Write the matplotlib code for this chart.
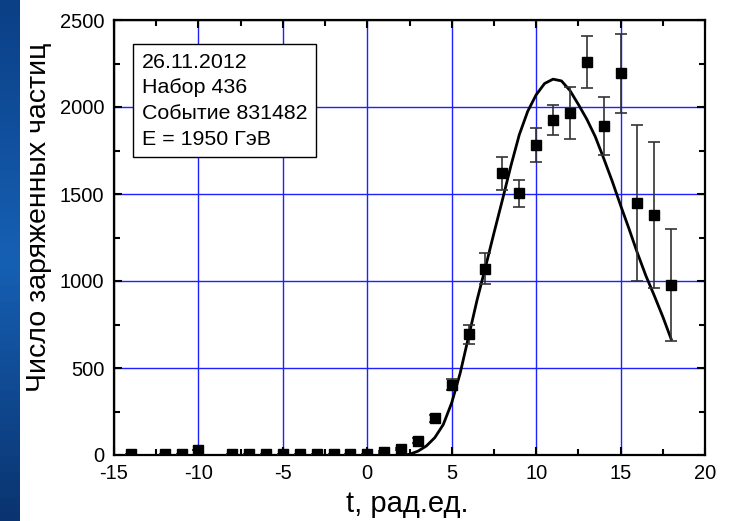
import matplotlib
matplotlib.use("Agg")
import numpy as np
import matplotlib.pyplot as plt
from matplotlib.colors import LinearSegmentedColormap
from matplotlib.ticker import MultipleLocator

plt.rcParams['font.family'] = ['Liberation Sans', 'DejaVu Sans']
plt.rcParams['axes.unicode_minus'] = False

# measured points
t_pts = [-14, -12, -11, -10, -8, -7, -6, -5, -4, -3, -2, -1, 0,
         1, 2, 3, 4, 5, 6, 7, 8, 9, 10, 11, 12, 13, 14, 15, 16, 17, 18]
n_pts = [5, 8, 6, 30, 5, 5, 6, 6, 5, 5, 5, 6, 8,
         18, 35, 83, 210, 405, 693, 1070, 1620, 1505, 1782, 1925, 1965,
         2259, 1890, 2195, 1448, 1379, 977]
n_err = [0, 0, 0, 0, 0, 0, 0, 0, 0, 0, 0, 0, 0,
         5, 8, 12, 22, 30, 55, 90, 95, 78, 98, 88, 150,
         150, 167, 227, 448, 420, 320]

# fitted curve
t_fit = [2.2, 2.5, 3, 3.5, 4, 4.5, 5, 5.5, 6, 6.5, 7, 7.5, 8, 8.5, 9, 9.5,
         10, 10.5, 11, 11.5, 12, 12.5, 13, 13.5, 14, 14.5, 15, 15.5, 16,
         16.5, 17, 17.5, 18]
n_fit = [0, 4, 22, 52, 100, 175, 300, 470, 680, 890, 1080, 1275, 1465,
         1660, 1840, 1975, 2070, 2135, 2160, 2150, 2095, 2015, 1930, 1830,
         1705, 1575, 1435, 1300, 1160, 1030, 915, 795, 665]

info_lines = ["26.11.2012", "Набор 436", "Событие 831482", "E = 1950 ГэВ"]

fig = plt.figure(figsize=(7.30, 5.21), dpi=100)

# slide background stripe on the left edge
bg = fig.add_axes([0, 0, 20 / 730, 1])
bg.set_axis_off()
cmap = LinearSegmentedColormap.from_list('slide', ['#0b3f86', '#1660b4', '#0a3470'])
bg.imshow(np.linspace(0, 1, 64).reshape(-1, 1), aspect='auto', cmap=cmap,
          extent=(0, 1, 0, 1))

ax = fig.add_axes([114 / 730, 1 - 455 / 521, 591 / 730, 435 / 521])
ax.set_xlim(-15, 20)
ax.set_ylim(0, 2500)

ax.xaxis.set_major_locator(MultipleLocator(5))
ax.xaxis.set_minor_locator(MultipleLocator(2.5))
ax.yaxis.set_major_locator(MultipleLocator(500))
ax.yaxis.set_minor_locator(MultipleLocator(250))
ax.grid(True, which='major', color='#2020ff', linewidth=1.0)
ax.set_axisbelow(True)

ax.tick_params(which='both', direction='in', top=True, right=True,
               width=1.5, labelsize=14.5)
ax.tick_params(which='major', length=6)
ax.tick_params(which='minor', length=4)
ax.tick_params(axis='x', which='major', pad=6.5)
ax.tick_params(axis='y', which='major', pad=7)
for s in ax.spines.values():
    s.set_linewidth(1.6)

ax.plot(t_fit, n_fit, color='black', linewidth=2, zorder=3)

ax.errorbar(t_pts, n_pts, yerr=n_err, fmt='s', color='black', ms=7,
            ecolor='#333333', elinewidth=1.2, capsize=4, capthick=1.2,
            zorder=4)

ax.set_xlabel("t, рад.ед.", fontsize=21)
ax.xaxis.set_label_coords(0.497, -0.08)
ax.set_ylabel("Число заряженных частиц", fontsize=20.5)
ax.yaxis.set_label_coords(-0.105, 0.547)

ax.text(0.047, 0.925, "\n".join(info_lines), transform=ax.transAxes,
        fontsize=15.4, va='top', ha='left', linespacing=1.45, zorder=5,
        bbox=dict(boxstyle='square,pad=0.4', facecolor='white',
                  edgecolor='black', linewidth=1))

fig.savefig("out.png", dpi=100)
